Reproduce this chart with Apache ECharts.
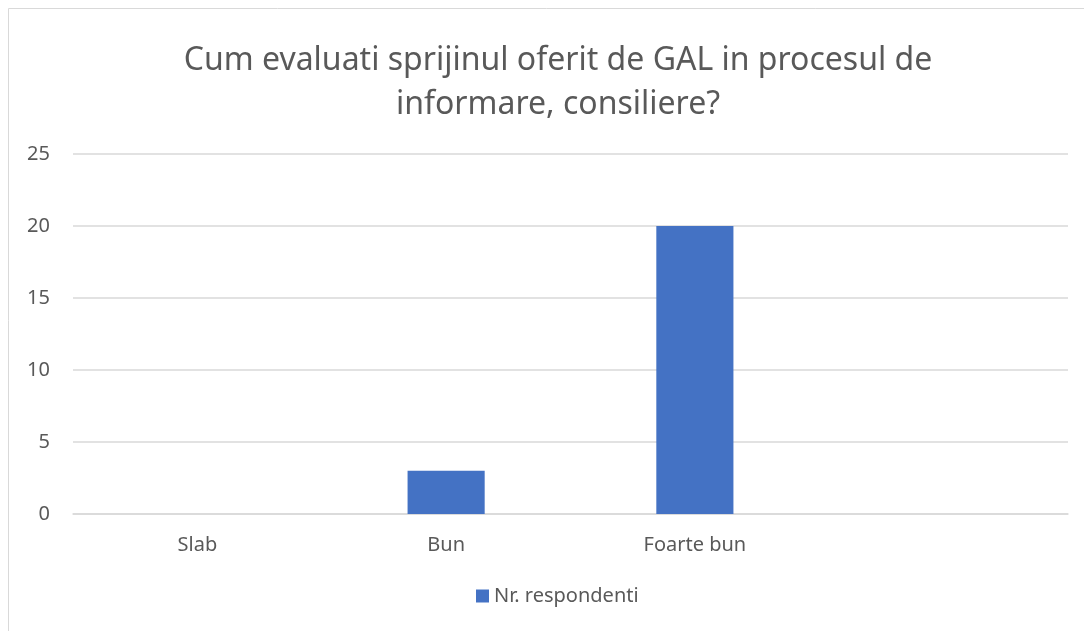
<!DOCTYPE html>
<html>
<head>
<meta charset="utf-8">
<script src="https://cdn.jsdelivr.net/npm/echarts@6/dist/echarts.min.js"></script>
<style>
  html, body { margin: 0; padding: 0; background: #fff; }
  #chart { width: 1084px; height: 631px; }
</style>
</head>
<body>
<div id="chart"></div>
<script>
// categorii si valori
var categories = ['Slab', 'Bun', 'Foarte bun', ''];
var respondenti = [0, 3, 20, null];
var yTicks = [0, 5, 10, 15, 20, 25];
var titleLines = ['Cum evaluati sprijinul oferit de GAL in procesul de', 'informare, consiliere?'];
var seriesName = 'Nr. respondenti';

var chart = echarts.init(document.getElementById('chart'));

var option = {
  animation: false,
  textStyle: { fontFamily: 'Noto Sans', color: '#595959' },
  graphic: [{
    type: 'rect',
    shape: { x: 8.5, y: 8.5, width: 1200, height: 800 },
    style: { fill: 'none', stroke: '#d9d9d9', lineWidth: 1 },
    silent: true
  }],
  title: {
    text: titleLines.join('\n'),
    left: 553,
    top: 34,
    textAlign: 'center',
    textStyle: {
      fontFamily: 'Noto Sans',
      fontSize: 32,
      fontWeight: 'normal',
      color: '#595959',
      lineHeight: 44
    }
  },
  legend: {
    bottom: 20,
    left: 471,
    itemWidth: 13,
    itemHeight: 13,
    itemGap: 6,
    icon: 'rect',
    textStyle: { fontSize: 20, color: '#595959', fontFamily: 'Noto Sans' },
    data: [seriesName]
  },
  grid: { left: 73, right: 16, top: 154, bottom: 117, containLabel: false },
  xAxis: {
    type: 'category',
    data: categories,
    axisLine: { lineStyle: { color: '#d9d9d9', width: 1.5 } },
    axisTick: { show: false },
    axisLabel: { fontSize: 20, color: '#595959', margin: 21, fontFamily: 'Noto Sans' }
  },
  yAxis: {
    type: 'value',
    min: yTicks[0],
    max: yTicks[yTicks.length - 1],
    interval: 5,
    axisLine: { show: false },
    axisTick: { show: false },
    splitLine: { lineStyle: { color: '#d9d9d9', width: 1.5 } },
    axisLabel: { fontSize: 20, color: '#595959', margin: 23, fontFamily: 'Noto Sans' }
  },
  series: [{
    name: seriesName,
    type: 'bar',
    data: respondenti,
    barWidth: '31%',
    itemStyle: { color: '#4472C4' }
  }]
};

chart.setOption(option);
</script>
</body>
</html>
